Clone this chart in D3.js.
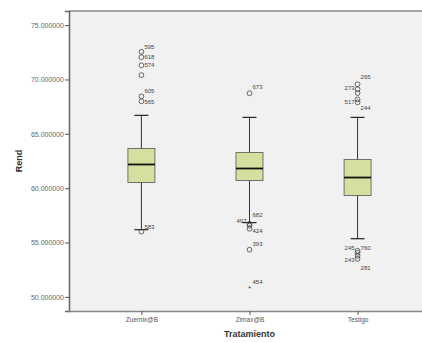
<!DOCTYPE html>
<html>
<head>
<meta charset="utf-8">
<script src="https://cdn.jsdelivr.net/npm/d3@7"></script>
<style>
body { margin: 0; background: #fff; }
svg { font-family: Arial, "Liberation Sans", sans-serif; }
</style>
</head>
<body>
<svg id="chart" width="422" height="343"></svg>
<script>
// group summaries
var groups = ["Zuemix@B", "Zimax@B", "Testigo"];
var q1 = [60.52, 60.70, 59.32];
var median = [62.18, 61.81, 60.98];
var q3 = [63.65, 63.28, 62.64];
var whiskLo = [56.18, 56.83, 55.35];
var whiskHi = [66.70, 66.51, 66.51];

// outliers: group index, value, case label
var outGroup = [0, 0, 0, 0, 0, 0, 0, 1, 1, 1, 1, 1, 1, 2, 2, 2, 2, 2, 2, 2, 2, 2];
var outValue = [72.55, 72.05, 71.3, 70.4, 68.45, 67.99, 56.0, 68.73, 56.73, 56.55, 56.27, 54.34, 50.83, 69.56, 69.1, 68.75, 68.17, 67.9, 54.24, 54.06, 53.78, 53.5];
var outLabel = ["595", "618", "574", "", "605", "565", "583", "673", "682", "497", "424", "393", "454", "265", "273", "", "517", "244", "245", "760", "243", "281"];
var outExtreme = [0, 0, 0, 0, 0, 0, 0, 0, 0, 0, 0, 0, 1, 0, 0, 0, 0, 0, 0, 0, 0, 0];
// label to the left (1) or right (0) of the point, and vertical shift
var outLeft = [0, 0, 0, 0, 0, 0, 0, 0, 0, 1, 0, 0, 0, 0, 1, 0, 1, 0, 1, 0, 1, 0];
var outDy = [-5, 0, 0, 0, -5, 1, -5, -6, -9, -5, 2, -6, -6, -7, -1, 0, 3, 6, -3, -5, 4, 9];

var yTicks = [50, 55, 60, 65, 70, 75];

var margin = { top: 11, left: 69, bottom: 32 },
  width = 422 - margin.left + 8,
  height = 343 - margin.top - margin.bottom;

var svg = d3.select("#chart");
var g = svg.append("g").attr("transform", "translate(" + margin.left + "," + margin.top + ")");

var x = d3.scalePoint().domain(groups).range([0, width]).padding(0.67);
var y = d3.scaleLinear().domain([48.7, 76.3]).range([height, 0]);

// plot background
g.append("rect")
  .attr("x", 0).attr("y", 0)
  .attr("width", width).attr("height", height)
  .attr("fill", "#f1f1f1");
g.append("line").attr("x1", 0).attr("x2", width).attr("y1", 0).attr("y2", 0)
  .attr("stroke", "#8a8a8a").attr("stroke-width", 1.5);

// axes
var yAxis = d3.axisLeft(y).tickValues(yTicks).tickSize(4).tickPadding(1)
  .tickFormat(d3.format(".6f"));
var gy = g.append("g").call(yAxis);
gy.select(".domain").attr("stroke", "#666").attr("stroke-width", 1.5);
gy.selectAll(".tick line").attr("stroke", "#555");
gy.selectAll("text").attr("fill", "#666").style("font-size", "7px");

var xAxis = d3.axisBottom(x).tickSize(4).tickPadding(2).tickSizeOuter(0);
var gx = g.append("g").attr("transform", "translate(0," + height + ")").call(xAxis);
gx.select(".domain").attr("stroke", "#888").attr("stroke-width", 1.5);
gx.selectAll(".tick line").attr("stroke", "#555");
gx.selectAll("text").attr("fill", "#555").style("font-size", "6.5px");

// axis titles
svg.append("text")
  .attr("transform", "translate(22," + (margin.top + y(62.5)) + ") rotate(-90)")
  .attr("text-anchor", "middle")
  .style("font-size", "9px").style("font-weight", "bold").attr("fill", "#333")
  .text("Rend");
svg.append("text")
  .attr("x", margin.left + x("Zimax@B"))
  .attr("y", 337)
  .attr("text-anchor", "middle")
  .style("font-size", "9px").style("font-weight", "bold").attr("fill", "#333")
  .text("Tratamiento");

// boxes
var boxW = 27, capW = 14;
var boxes = g.selectAll(".box").data(groups).enter().append("g").attr("class", "box");

boxes.append("line")
  .attr("x1", function (d) { return x(d); }).attr("x2", function (d) { return x(d); })
  .attr("y1", function (d, i) { return y(whiskHi[i]); })
  .attr("y2", function (d, i) { return y(whiskLo[i]); })
  .attr("stroke", "#333").attr("stroke-width", 1);
boxes.append("line")
  .attr("x1", function (d) { return x(d) - capW / 2; }).attr("x2", function (d) { return x(d) + capW / 2; })
  .attr("y1", function (d, i) { return y(whiskHi[i]); }).attr("y2", function (d, i) { return y(whiskHi[i]); })
  .attr("stroke", "#222").attr("stroke-width", 1.2);
boxes.append("line")
  .attr("x1", function (d) { return x(d) - capW / 2; }).attr("x2", function (d) { return x(d) + capW / 2; })
  .attr("y1", function (d, i) { return y(whiskLo[i]); }).attr("y2", function (d, i) { return y(whiskLo[i]); })
  .attr("stroke", "#222").attr("stroke-width", 1.2);
boxes.append("rect")
  .attr("x", function (d) { return x(d) - boxW / 2; })
  .attr("y", function (d, i) { return y(q3[i]); })
  .attr("width", boxW)
  .attr("height", function (d, i) { return y(q1[i]) - y(q3[i]); })
  .attr("fill", "#d6df9f").attr("stroke", "#555").attr("stroke-width", 0.8);
boxes.append("line")
  .attr("x1", function (d) { return x(d) - boxW / 2; }).attr("x2", function (d) { return x(d) + boxW / 2; })
  .attr("y1", function (d, i) { return y(median[i]); }).attr("y2", function (d, i) { return y(median[i]); })
  .attr("stroke", "#111").attr("stroke-width", 1.8);

// outliers
var outs = outValue.map(function (v, i) {
  return { g: groups[outGroup[i]], v: v, label: outLabel[i], ext: outExtreme[i], left: outLeft[i], dy: outDy[i] };
});

var pts = g.selectAll(".out").data(outs).enter().append("g").attr("class", "out");
pts.filter(function (d) { return !d.ext; }).append("circle")
  .attr("cx", function (d) { return x(d.g); })
  .attr("cy", function (d) { return y(d.v); })
  .attr("r", 2.4)
  .attr("fill", "none").attr("stroke", "#444").attr("stroke-width", 0.8);
pts.filter(function (d) { return d.ext; }).append("text")
  .attr("x", function (d) { return x(d.g); })
  .attr("y", function (d) { return y(d.v) + 3.5; })
  .attr("text-anchor", "middle")
  .style("font-size", "8px").attr("fill", "#444")
  .text("*");
pts.append("text")
  .attr("x", function (d) { return x(d.g) + (d.left ? -3 : 3); })
  .attr("y", function (d) { return y(d.v) + 2 + d.dy; })
  .attr("text-anchor", function (d) { return d.left ? "end" : "start"; })
  .style("font-size", "6px").attr("fill", "#444")
  .text(function (d) { return d.label; });
</script>
</body>
</html>
